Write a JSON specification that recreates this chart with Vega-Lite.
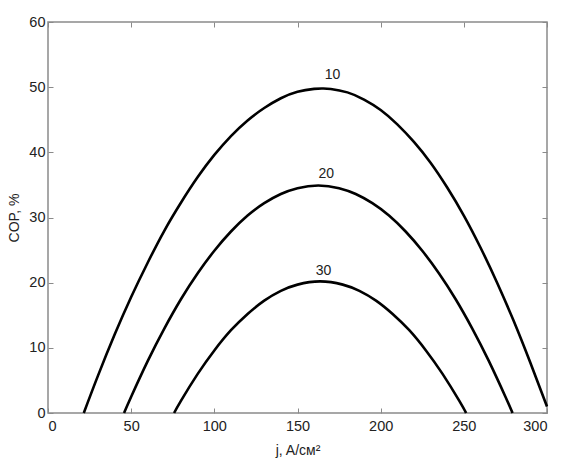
{
  "$schema": "https://vega.github.io/schema/vega-lite/v6.json",
  "width": 499,
  "height": 391,
  "autosize": "none",
  "padding": {"left": 48, "top": 22, "right": 16, "bottom": 54},
  "background": "white",
  "config": {
    "view": {"stroke": "#8a8a8a", "strokeWidth": 1.5},
    "font": "Liberation Sans",
    "axis": {
      "grid": false,
      "domain": false,
      "tickColor": "#8a8a8a",
      "tickSize": -5,
      "tickWidth": 1,
      "labelFont": "Liberation Sans",
      "labelFontSize": 14.5,
      "labelColor": "#222222",
      "titleFont": "Liberation Sans",
      "titleFontSize": 14,
      "titleFontWeight": "normal",
      "titleColor": "#222222"
    }
  },
  "datasets": {
    "curves": [
      {"j": 21.5, "cop": 0, "s": "10"},
      {"j": 30, "cop": 5.7, "s": "10"},
      {"j": 40, "cop": 12.0, "s": "10"},
      {"j": 50, "cop": 17.8, "s": "10"},
      {"j": 60, "cop": 23.1, "s": "10"},
      {"j": 70, "cop": 28.0, "s": "10"},
      {"j": 80, "cop": 32.3, "s": "10"},
      {"j": 90, "cop": 36.2, "s": "10"},
      {"j": 100, "cop": 39.6, "s": "10"},
      {"j": 110, "cop": 42.5, "s": "10"},
      {"j": 120, "cop": 44.9, "s": "10"},
      {"j": 130, "cop": 46.8, "s": "10"},
      {"j": 140, "cop": 48.3, "s": "10"},
      {"j": 150, "cop": 49.3, "s": "10"},
      {"j": 160, "cop": 49.74, "s": "10"},
      {"j": 165, "cop": 49.8, "s": "10"},
      {"j": 170, "cop": 49.73, "s": "10"},
      {"j": 180, "cop": 49.2, "s": "10"},
      {"j": 190, "cop": 48.1, "s": "10"},
      {"j": 200, "cop": 46.5, "s": "10"},
      {"j": 210, "cop": 44.3, "s": "10"},
      {"j": 220, "cop": 41.6, "s": "10"},
      {"j": 230, "cop": 38.4, "s": "10"},
      {"j": 240, "cop": 34.6, "s": "10"},
      {"j": 250, "cop": 30.3, "s": "10"},
      {"j": 260, "cop": 25.4, "s": "10"},
      {"j": 270, "cop": 20.0, "s": "10"},
      {"j": 280, "cop": 14.1, "s": "10"},
      {"j": 290, "cop": 7.7, "s": "10"},
      {"j": 300, "cop": 1.0, "s": "10"},
      {"j": 45.7, "cop": 0, "s": "20"},
      {"j": 50, "cop": 2.5, "s": "20"},
      {"j": 60, "cop": 8.0, "s": "20"},
      {"j": 70, "cop": 13.0, "s": "20"},
      {"j": 80, "cop": 17.5, "s": "20"},
      {"j": 90, "cop": 21.45, "s": "20"},
      {"j": 100, "cop": 24.9, "s": "20"},
      {"j": 110, "cop": 27.85, "s": "20"},
      {"j": 120, "cop": 30.3, "s": "20"},
      {"j": 130, "cop": 32.2, "s": "20"},
      {"j": 140, "cop": 33.6, "s": "20"},
      {"j": 150, "cop": 34.5, "s": "20"},
      {"j": 162.5, "cop": 34.9, "s": "20"},
      {"j": 175, "cop": 34.5, "s": "20"},
      {"j": 185, "cop": 33.6, "s": "20"},
      {"j": 195, "cop": 32.2, "s": "20"},
      {"j": 205, "cop": 30.3, "s": "20"},
      {"j": 215, "cop": 27.85, "s": "20"},
      {"j": 225, "cop": 24.9, "s": "20"},
      {"j": 235, "cop": 21.45, "s": "20"},
      {"j": 245, "cop": 17.5, "s": "20"},
      {"j": 255, "cop": 13.0, "s": "20"},
      {"j": 265, "cop": 8.0, "s": "20"},
      {"j": 275, "cop": 2.5, "s": "20"},
      {"j": 279.3, "cop": 0, "s": "20"},
      {"j": 75.8, "cop": 0, "s": "30"},
      {"j": 80, "cop": 1.9, "s": "30"},
      {"j": 90, "cop": 6.0, "s": "30"},
      {"j": 100, "cop": 9.6, "s": "30"},
      {"j": 110, "cop": 12.7, "s": "30"},
      {"j": 120, "cop": 15.2, "s": "30"},
      {"j": 130, "cop": 17.25, "s": "30"},
      {"j": 140, "cop": 18.75, "s": "30"},
      {"j": 150, "cop": 19.7, "s": "30"},
      {"j": 163.6, "cop": 20.2, "s": "30"},
      {"j": 177.2, "cop": 19.7, "s": "30"},
      {"j": 187.2, "cop": 18.75, "s": "30"},
      {"j": 197.2, "cop": 17.25, "s": "30"},
      {"j": 207.2, "cop": 15.2, "s": "30"},
      {"j": 217.2, "cop": 12.7, "s": "30"},
      {"j": 227.2, "cop": 9.6, "s": "30"},
      {"j": 237.2, "cop": 6.0, "s": "30"},
      {"j": 247.2, "cop": 1.9, "s": "30"},
      {"j": 251.4, "cop": 0, "s": "30"}
    ],
    "labels": [
      {"j": 171, "cop": 51.9, "t": "10"},
      {"j": 167.3, "cop": 36.6, "t": "20"},
      {"j": 165.7, "cop": 21.8, "t": "30"}
    ]
  },
  "layer": [
    {
      "data": {"name": "curves"},
      "mark": {"type": "line", "color": "black", "strokeWidth": 2.6, "interpolate": "natural"},
      "encoding": {
        "x": {"field": "j", "type": "quantitative", "scale": {"domain": [0, 300], "nice": false}, "axis": {"values": [0, 50, 100, 150, 200, 250, 300], "title": "j, A/см²", "labelPadding": 11, "titlePadding": 11}},
        "y": {"field": "cop", "type": "quantitative", "scale": {"domain": [0, 60], "nice": false}, "axis": {"values": [0, 10, 20, 30, 40, 50, 60], "title": "COP, %", "labelPadding": 8, "titlePadding": 7}},
        "detail": {"field": "s"}
      }
    },
    {
      "data": {"name": "labels"},
      "mark": {"type": "text", "fontSize": 14, "color": "#222222", "baseline": "middle", "align": "center"},
      "encoding": {
        "x": {"field": "j", "type": "quantitative", "axis": {"orient": "top", "values": [0, 50, 100, 150, 200, 250, 300], "labels": false, "title": null}},
        "y": {"field": "cop", "type": "quantitative", "axis": {"orient": "right", "values": [0, 10, 20, 30, 40, 50, 60], "labels": false, "title": null}},
        "text": {"field": "t"}
      }
    }
  ],
  "resolve": {"axis": {"x": "independent", "y": "independent"}}
}
